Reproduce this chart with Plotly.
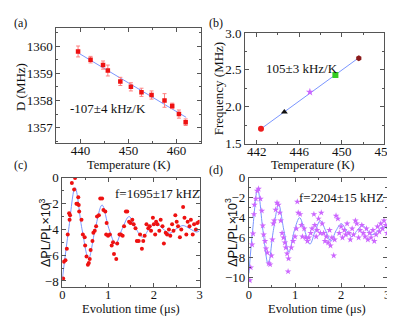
import plotly.graph_objects as go

W, H = 395, 316
SERIF = "Liberation Serif, Times New Roman, serif"
SANS = "Liberation Sans, Arial, sans-serif"

# ---------- data (a) ----------
a_temp = [439.5, 442.1, 444.7, 445.7, 448.3, 450.5, 452.7, 454.8, 457.5, 459.1, 460.5, 461.9]
a_D = [1359.8, 1359.5, 1359.3, 1359.1, 1358.7, 1358.5, 1358.3, 1358.2, 1358.0, 1357.8, 1357.5, 1357.2]
a_err = [0.2, 0.12, 0.15, 0.2, 0.15, 0.15, 0.15, 0.15, 0.25, 0.1, 0.15, 0.12]
a_fit_x = [439.5, 462.0]
a_fit_y = [1359.75, 1357.38]

# ---------- data (b) ----------
b_temp = [442.4, 444.6, 447.0, 449.4, 451.6]
b_freq = [1.70, 1.93, 2.20, 2.43, 2.66]
b_colors = ["#ee1c1c", "#111111", "#cc66ff", "#33cc22", "#8b1a1a"]
b_symbols = ["circle", "triangle-up", "star", "square", "hexagon"]
b_fit_x = [442.4, 451.6]
b_fit_y = [1.70, 2.665]

# ---------- data (c) ----------
c_t = [0.02, 0.035, 0.07, 0.10, 0.12, 0.15, 0.16, 0.17, 0.21, 0.26, 0.28, 0.31, 0.33, 0.35, 0.36, 0.37,
       0.42, 0.45, 0.49, 0.50, 0.53, 0.56, 0.58, 0.60, 0.62, 0.66, 0.68, 0.71, 0.74, 0.76, 0.80,
       0.83, 0.87, 0.90, 0.94, 0.96, 0.97, 1.00, 1.04, 1.08, 1.11, 1.13, 1.18, 1.20, 1.25, 1.28,
       1.32, 1.35, 1.39, 1.42, 1.46, 1.49, 1.53, 1.56, 1.60, 1.63, 1.67, 1.70, 1.74, 1.77, 1.80,
       1.84, 1.88, 1.91, 1.94, 1.98, 2.00, 2.03, 2.05, 2.08, 2.12, 2.15, 2.19, 2.22, 2.26, 2.29,
       2.33, 2.36, 2.40, 2.43, 2.47, 2.50, 2.53, 2.57, 2.60, 2.64, 2.67, 2.71, 2.74, 2.78, 2.81,
       2.85, 2.88, 2.92, 2.95, 2.99]
c_y = [-7.8, -6.5, -6.4, -5.5, -4.4, -2.75, -3.25, -2.9, -0.4, -0.9, 0.0, -2.0, -2.0, -1.5, -2.1, -2.6,
       -3.25, -4.4, -4.6, -5.25, -6.1, -6.75, -6.6, -6.3, -5.6, -4.9, -4.25, -4.1, -3.75, -3.0, -2.9,
       -1.6, -1.6, -2.5, -2.6, -4.4, -3.5, -4.5, -4.4, -5.25, -5.0, -5.9, -6.3, -5.1, -4.4, -4.4,
       -4.5, -3.75, -2.6, -2.6, -3.4, -3.5, -3.25, -3.6, -3.9, -4.9, -4.9, -4.4, -5.5, -4.9, -4.5,
       -3.6, -3.9, -3.75, -4.1, -3.1, -3.6, -4.4, -3.4, -3.6, -4.1, -3.25, -3.75, -5.1, -4.25, -4.4,
       -4.0, -4.5, -3.6, -4.1, -2.9, -3.4, -3.75, -4.6, -4.0, -2.25, -3.1, -4.4, -3.4, -3.75, -3.25,
       -4.4, -3.6, -4.0, -3.5, -3.4]
c_fit_t = [0.0, 0.14, 0.28, 0.43, 0.575, 0.72, 0.87, 1.02, 1.165, 1.31, 1.46, 1.61, 1.755, 1.90,
           2.05, 2.20, 2.345, 2.49, 2.64, 2.79, 2.935, 3.0]
c_fit_y = [-7.9, -4.0, -0.75, -3.95, -6.25, -3.95, -2.1, -3.95, -5.1, -3.95, -3.0, -3.95, -4.6, -3.95,
           -3.5, -3.95, -4.3, -3.95, -3.7, -3.95, -4.2, -4.1]

# ---------- data (d) ----------
d_t = [0.02, 0.04, 0.07, 0.09, 0.11, 0.12, 0.15, 0.18, 0.21, 0.25, 0.28, 0.30, 0.32, 0.35, 0.37, 0.40,
       0.43, 0.46, 0.49, 0.51, 0.53, 0.55, 0.58, 0.61, 0.64, 0.67, 0.69, 0.72, 0.75, 0.78, 0.80,
       0.83, 0.85, 0.86, 0.92, 0.96, 1.00, 1.03, 1.05, 1.07, 1.11, 1.14, 1.16, 1.20, 1.23, 1.27,
       1.30, 1.34, 1.37, 1.41, 1.43, 1.46, 1.48, 1.51, 1.55, 1.57, 1.59, 1.62, 1.65, 1.68, 1.72,
       1.75, 1.77, 1.80, 1.84, 1.86, 1.89, 1.93, 1.96, 2.00, 2.03, 2.07, 2.10, 2.13, 2.17, 2.20,
       2.24, 2.27, 2.31, 2.34, 2.38, 2.41, 2.45, 2.48, 2.52, 2.55, 2.58, 2.62, 2.65, 2.69, 2.72,
       2.76, 2.79, 2.83, 2.86, 2.90, 2.93, 2.97, 3.0]
d_y = [-10.3, -9.0, -6.7, -5.6, -3.65, -2.7, -2.1, -1.3, -1.1, -2.1, -3.3, -4.8, -5.7, -6.35, -7.1, -7.5,
       -8.6, -8.7, -7.8, -6.2, -4.6, -4.3, -3.2, -2.5, -2.7, -3.5, -4.3, -5.55, -6.0, -6.5, -7.0,
       -7.6, -9.4, -8.1, -7.0, -6.35, -5.9, -5.1, -2.4, -3.5, -3.65, -4.75, -5.9, -5.1, -6.0, -6.35,
       -6.0, -5.55, -5.1, -3.65, -4.75, -5.9, -5.25, -4.1, -5.55, -3.5, -4.6, -5.55, -6.35, -5.9, -6.5,
       -5.25, -6.8, -6.0, -7.8, -6.2, -3.8, -4.1, -5.55, -4.9, -6.0, -5.25, -5.7, -4.6, -5.55, -6.2,
       -5.1, -5.7, -4.3, -4.6, -6.0, -5.25, -4.75, -5.55, -5.9, -5.1, -6.2, -5.55, -6.0, -5.25, -6.35,
       -5.7, -4.9, -5.4, -4.6, -5.1, -4.3, -4.75, -5.55]
d_fit_t = [0.0, 0.08, 0.19, 0.305, 0.42, 0.53, 0.645, 0.76, 0.87, 0.985, 1.10, 1.21, 1.325, 1.44,
           1.55, 1.665, 1.78, 1.89, 2.005, 2.12, 2.23, 2.345, 2.46, 2.57, 2.685, 2.80, 2.91, 3.0]
d_fit_y = [-9.6, -5.3, -1.1, -5.3, -8.7, -5.3, -2.7, -5.3, -7.45, -5.3, -4.0, -5.3, -6.65, -5.3,
           -4.3, -5.3, -6.35, -5.3, -4.6, -5.3, -5.9, -5.3, -4.75, -5.3, -5.7, -5.3, -4.9, -5.1]

FIT = "#7b96ff"

fig = go.Figure()
# (a)
fig.add_trace(go.Scatter(x=a_fit_x, y=a_fit_y, mode="lines", line=dict(color=FIT, width=1),
                         xaxis="x", yaxis="y", showlegend=False))
fig.add_trace(go.Scatter(x=a_temp, y=a_D, mode="markers",
                         marker=dict(symbol="square", size=4.5, color="#ee1111"),
                         error_y=dict(type="data", array=a_err, color="#ff8080", thickness=1, width=2),
                         xaxis="x", yaxis="y", showlegend=False))
# (b)
fig.add_trace(go.Scatter(x=b_fit_x, y=b_fit_y, mode="lines", line=dict(color=FIT, width=1),
                         xaxis="x2", yaxis="y2", showlegend=False))
fig.add_trace(go.Scatter(x=b_temp, y=b_freq, mode="markers",
                         marker=dict(symbol=b_symbols, size=6, color=b_colors),
                         xaxis="x2", yaxis="y2", showlegend=False))
# (c)
fig.add_trace(go.Scatter(x=c_fit_t, y=c_fit_y, mode="lines", line=dict(color=FIT, width=1, shape="spline", smoothing=1.0),
                         xaxis="x3", yaxis="y3", showlegend=False))
fig.add_trace(go.Scatter(x=c_t, y=c_y, mode="markers", marker=dict(symbol="circle", size=4, color="#ee1111"),
                         xaxis="x3", yaxis="y3", showlegend=False))
# (d)
fig.add_trace(go.Scatter(x=d_fit_t, y=d_fit_y, mode="lines", line=dict(color=FIT, width=1, shape="spline", smoothing=1.0),
                         xaxis="x4", yaxis="y4", showlegend=False))
fig.add_trace(go.Scatter(x=d_t, y=d_y, mode="markers", marker=dict(symbol="star", size=5, color="#cc66ff"),
                         xaxis="x4", yaxis="y4", showlegend=False))


def ax(domain, rng, dtick, minor_dtick, anchor, size=13, font=SERIF, tick0=None, fmt=None, standoff=0):
    d = dict(domain=domain, range=rng, dtick=dtick, anchor=anchor, showline=True, linecolor="#555",
             linewidth=1, mirror="ticks", ticks="inside", ticklen=4, tickcolor="#555",
             showgrid=False, zeroline=False, tickfont=dict(family=font, size=size, color="#111"),
             ticklabelstandoff=standoff,
             minor=dict(dtick=minor_dtick, ticks="inside", ticklen=2, tickcolor="#555", showgrid=False))
    if tick0 is not None:
        d["tick0"] = tick0
    if fmt is not None:
        d["tickformat"] = fmt
    return d


def px(x):
    return x / W


def py(y):
    return 1 - y / H


fig.update_layout(
    width=W, height=H, margin=dict(l=0, r=0, t=0, b=0),
    paper_bgcolor="white", plot_bgcolor="white",
    xaxis=ax([px(47), px(196)], [435, 465], 10, 5, "y", tick0=440, standoff=-4),
    yaxis=ax([py(134), py(14)], [1356.45, 1360.65], 1, 0.5, "x"),
    xaxis2=ax([px(242), px(386)], [440.9, 454], 4, 2, "y2", tick0=442, standoff=-4),
    yaxis2=ax([py(135), py(19)], [1.5, 3.0], 0.5, 0.25, "x2", fmt=".1f"),
    xaxis3=ax([px(53), px(195)], [0, 3], 1, 0.5, "y3", size=12.5, standoff=-4),
    yaxis3=ax([py(286), py(171)], [-8.5, 0], 2, 1, "x3"),
    xaxis4=ax([px(246), px(389)], [0, 3], 1, 0.5, "y4", size=12.5, standoff=-4),
    yaxis4=ax([py(286), py(171)], [-11, 0], 2, 1, "x4"),
)

ann = []


def txt(x, y, s, size=13, font=SERIF, angle=0, xanchor="center"):
    ann.append(dict(x=px(x), y=py(y), xref="paper", yref="paper", text=s, showarrow=False,
                    font=dict(family=font, size=size, color="#111"), textangle=angle,
                    xanchor=xanchor, yanchor="middle"))


txt(1, 8, "(a)", 12, xanchor="left")
txt(203, 8, "(b)", 12, xanchor="left")
txt(1, 157, "(c)", 12, xanchor="left")
txt(203, 163, "(d)", 12, xanchor="left")
txt(122, 157.5, "Temperature (K)", 12.5)
txt(312, 157.5, "Temperature (K)", 12.5)
txt(10, 76, "D (MHz)", 13, angle=-90)
txt(214, 77, "Frequency (MHz)", 13, angle=-90)
txt(124, 309, "Evolution time (μs)", 12.5)
txt(316, 309, "Evolution time (μs)", 12.5)
txt(35, 228, "ΔPL/PL×10<sup>3</sup>", 12.5, font=SANS, angle=-90)
txt(228, 228, "ΔPL/PL×10<sup>3</sup>", 12.5, font=SANS, angle=-90)
txt(100, 98, "-107±4 kHz/K", 13)
txt(301, 56, "105±3 kHz/K", 13)
txt(151, 187, "f=1695±17 kHZ", 13)
txt(342, 192, "f=2204±15 kHZ", 13)
fig.update_layout(annotations=ann)

fig.write_html("out.html")
